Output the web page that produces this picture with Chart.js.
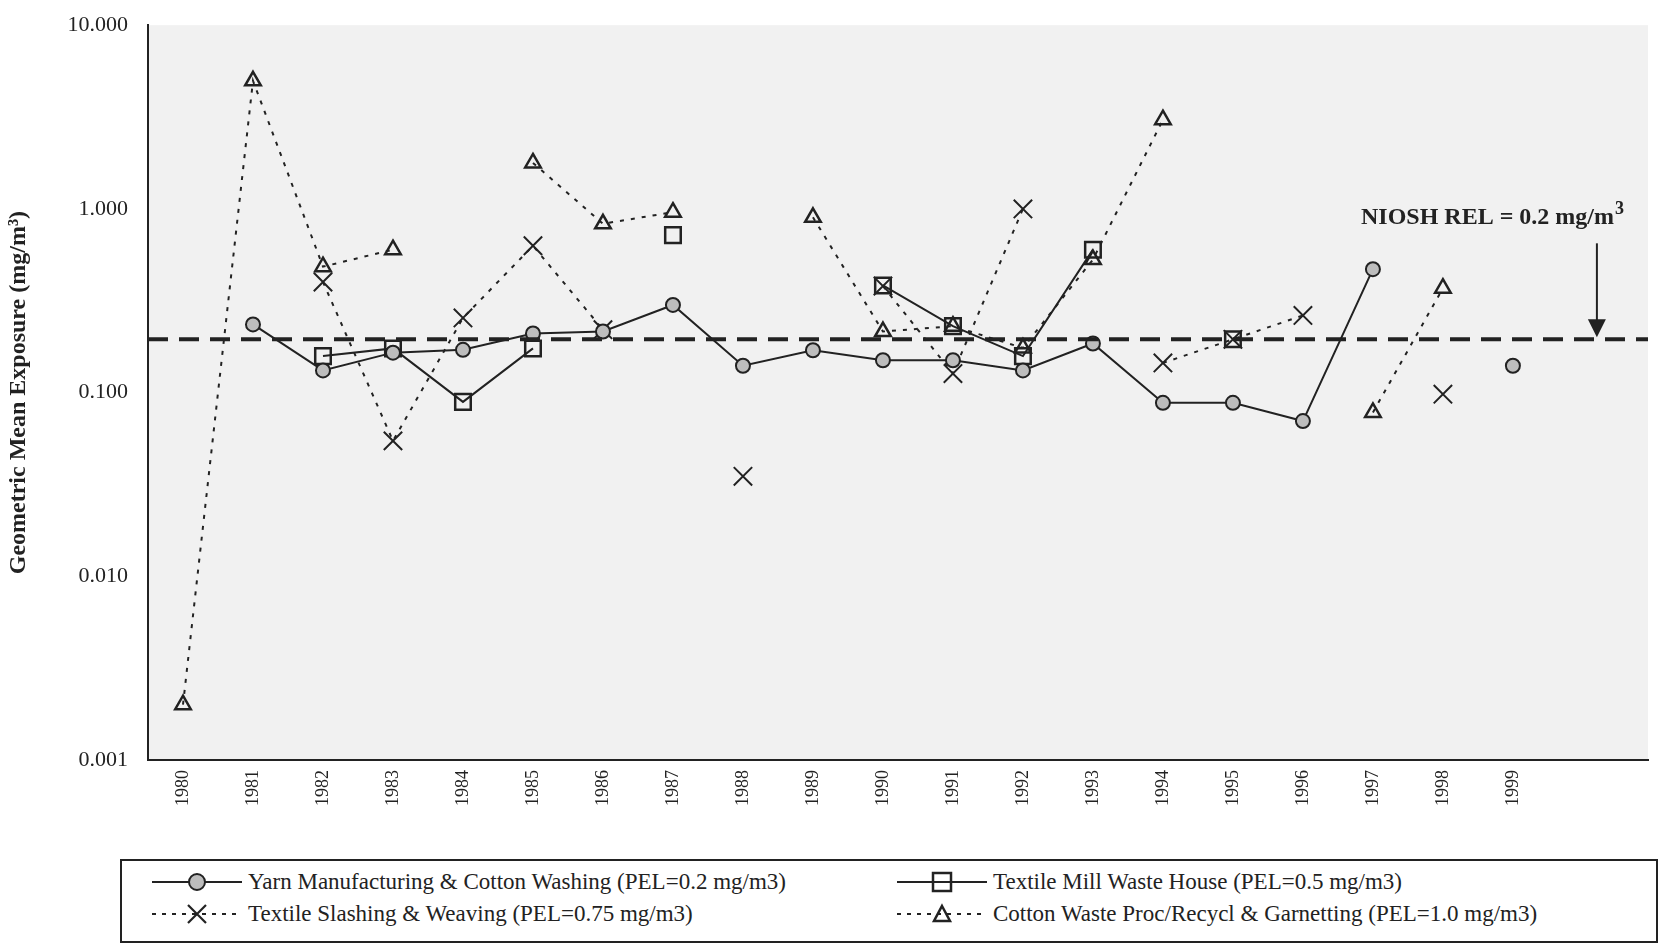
<!DOCTYPE html>
<html><head><meta charset="utf-8">
<script src="https://cdn.jsdelivr.net/npm/chart.js@4/dist/chart.umd.min.js"></script>
<style>
body{margin:0;background:#fff;}
#wrap{position:relative;width:1663px;height:946px;}
#legend{position:absolute;left:120px;top:859px;width:1538px;height:84px;border:2px solid #222;box-sizing:border-box;font-family:"Liberation Serif","DejaVu Serif",serif;font-size:23px;color:#222;}
.it{position:absolute;display:flex;align-items:center;white-space:nowrap;}
.it svg{margin-right:6px;}
</style></head><body>
<div id="wrap"><canvas id="c" width="1663" height="850"></canvas>
<div id="legend"></div></div>
<script>
const years = ["1980","1981","1982","1983","1984","1985","1986","1987","1988","1989","1990","1991","1992","1993","1994","1995","1996","1997","1998","1999"];
const yarn = [null,0.235,0.132,0.165,0.171,0.21,0.215,0.30,0.14,0.17,0.15,0.15,0.132,0.185,0.088,0.088,0.07,0.47,null,0.14];
const wasteHouse = [null,null,0.158,0.174,0.089,0.174,null,0.72,null,null,0.383,0.23,0.158,0.60,null,0.195,null,null,null,null];
const slashing = [null,null,0.40,0.0546,0.255,0.63,0.22,null,0.035,null,0.38,0.127,1.0,null,0.145,0.195,0.263,null,0.098,null];
const cottonWaste = [0.002,4.98,0.485,0.60,null,1.78,0.83,0.96,null,0.90,0.215,0.23,0.175,0.53,3.06,null,null,0.078,0.37,null];
const yTicks = [0.001,0.01,0.1,1,10];
const rel = 0.195;

const ink = "#222";
const serif = "'Liberation Serif'";
const pts = arr => arr.map((v,i)=>({x:i,y:v}));
const X_MAX = 20.93;

const bgPlugin = {
  id:"bg",
  beforeDraw(ch){
    const a=ch.chartArea,c=ch.ctx;
    c.save();c.fillStyle="#f1f1f1";c.fillRect(a.left,a.top,a.right-a.left,a.bottom-a.top);c.restore();
  },
  afterDraw(ch){
    const c=ch.ctx,xs=ch.scales.x,ys=ch.scales.y;
    const ax=xs.getPixelForValue(20.2), yr=ys.getPixelForValue(rel);
    c.save();c.strokeStyle=ink;c.fillStyle=ink;c.lineWidth=2;
    c.beginPath();c.moveTo(ax,yr-96);c.lineTo(ax,yr-14);c.stroke();
    c.beginPath();c.moveTo(ax-9,yr-20);c.lineTo(ax+9,yr-20);c.lineTo(ax,yr-2);c.closePath();c.fill();
    c.font="bold 24px "+serif;c.textAlign="right";c.textBaseline="alphabetic";
    const tx=ch.chartArea.right-20, ty=yr-115;
    c.fillText("NIOSH REL = 0.2 mg/m",tx-14,ty);
    c.font="bold 18px "+serif;c.textAlign="left";c.fillText("3",tx-13,ty-10);
    c.restore();
  }
};

new Chart(document.getElementById("c"),{
  type:"line",
  data:{datasets:[
    {label:"rel",data:[{x:-0.5,y:rel},{x:X_MAX,y:rel}],borderColor:ink,borderWidth:4,borderDash:[20,11],pointRadius:0},
    {label:"Yarn",data:pts(yarn),borderColor:ink,borderWidth:2,pointStyle:"circle",pointRadius:7,pointBackgroundColor:"#bdbdbd",pointBorderColor:ink,pointBorderWidth:2},
    {label:"Waste",data:pts(wasteHouse),borderColor:ink,borderWidth:2,pointStyle:"rect",pointRadius:11,pointBackgroundColor:"rgba(0,0,0,0)",pointBorderColor:ink,pointBorderWidth:2.5},
    {label:"Slash",data:pts(slashing),borderColor:ink,borderWidth:2,borderDash:[4,7],pointStyle:"crossRot",pointRadius:13,pointBorderColor:ink,pointBorderWidth:2},
    {label:"Cotton",data:pts(cottonWaste),borderColor:ink,borderWidth:2,borderDash:[4,7],pointStyle:"triangle",pointRadius:9,pointBackgroundColor:"rgba(0,0,0,0)",pointBorderColor:ink,pointBorderWidth:2.5}
  ]},
  options:{
    responsive:false,animation:false,spanGaps:false,
    layout:{padding:{top:18,right:3,left:0,bottom:0}},
    plugins:{legend:{display:false},tooltip:{enabled:false}},
    scales:{
      x:{type:"linear",min:-0.5,max:X_MAX,grid:{display:false,drawTicks:false},border:{color:ink,width:2},
        afterBuildTicks(s){s.ticks=years.map((_,i)=>({value:i}));},
        afterFit(s){s.height=90;},
        ticks:{autoSkip:false,maxRotation:90,minRotation:90,color:ink,padding:10,font:{family:serif,size:18},callback:v=>years[v]}},
      y:{type:"logarithmic",min:0.001,max:10,grid:{display:false},border:{color:ink,width:2},
        afterBuildTicks(s){s.ticks=yTicks.map(v=>({value:v}));},
        afterFit(s){s.width=148;},
        ticks:{color:ink,padding:12,font:{family:serif,size:22},callback:v=>v.toFixed(3)},
        title:{display:true,text:"Geometric Mean Exposure (mg/m³)",color:ink,padding:{bottom:4},font:{family:serif,size:24,weight:"bold"}}}
    }
  },
  plugins:[bgPlugin]
});

const legendItems = [
  {t:"Yarn Manufacturing & Cotton Washing (PEL=0.2 mg/m3)",dash:"",m:'<circle cx="45" cy="12" r="8" fill="#bdbdbd" stroke="#222" stroke-width="2"/>',x:30,y:8},
  {t:"Textile Mill Waste House (PEL=0.5 mg/m3)",dash:"",m:'<rect x="36" y="3" width="18" height="18" fill="none" stroke="#222" stroke-width="2.5"/>',x:775,y:8},
  {t:"Textile Slashing & Weaving (PEL=0.75 mg/m3)",dash:"4,6",m:'<path d="M36 3L54 21M54 3L36 21" stroke="#222" stroke-width="2.2"/>',x:30,y:40},
  {t:"Cotton Waste Proc/Recycl & Garnetting (PEL=1.0 mg/m3)",dash:"4,6",m:'<path d="M45 4L53 19L37 19Z" fill="none" stroke="#222" stroke-width="2.5"/>',x:775,y:40}
];
const lg=document.getElementById("legend");
legendItems.forEach(it=>{
  const d=document.createElement("div");d.className="it";d.style.left=it.x+"px";d.style.top=it.y+"px";
  d.innerHTML='<svg width="90" height="24"><line x1="0" y1="12" x2="90" y2="12" stroke="#222" stroke-width="2"'+(it.dash?' stroke-dasharray="'+it.dash+'"':'')+'/>'+it.m+'</svg><span>'+it.t+'</span>';
  lg.appendChild(d);
});
</script></body></html>
